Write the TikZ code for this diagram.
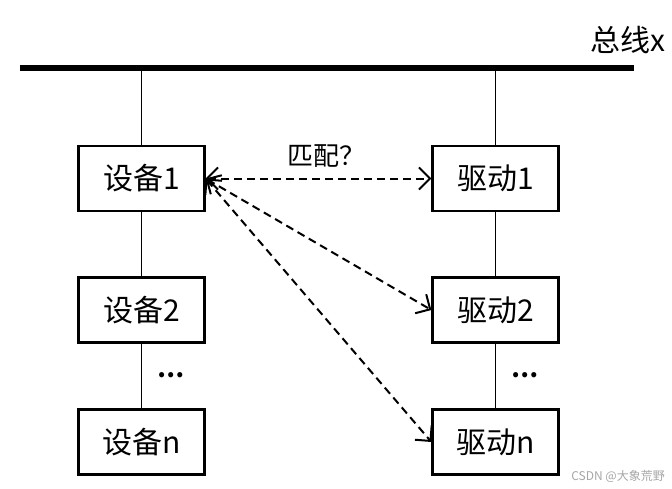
\documentclass[tikz,border=0pt]{standalone}
\usepackage{fontspec}
\newfontfamily\cjk{Noto Sans CJK SC}
\usetikzlibrary{arrows.meta}
\tikzset{
  box/.style={draw=black, line width=2.2pt, minimum width=126pt, minimum height=65pt, inner sep=0pt,
    font=\cjk\fontsize{30}{34}\selectfont},
  link/.style={line width=1.8pt},
  match/.style={line width=2pt, dash pattern=on 8pt off 5pt,
    {Straight Barb[length=11pt,width=22pt,line width=2pt]}-{Straight Barb[length=11pt,width=22pt,line width=2pt]}},
  dots/.style={font=\cjk\bfseries\fontsize{24}{28}\selectfont, inner sep=0pt}
}
\begin{document}
\begin{tikzpicture}[x=1pt,y=-1pt]
\useasboundingbox (0,0) rectangle (672,488);
\fill[white] (0,0) rectangle (672,488);
% bus
\coordinate (busL) at (20,67.5);
\coordinate (busR) at (634,67.5);
\draw[line width=6pt] (busL) -- (busR);
\node[anchor=east, font=\cjk\fontsize{30}{34}\selectfont, inner sep=0pt] (buslabel) at (666,40) {总线x};
% boxes
\node[box] (d1) at (141.5,178.5) {设备1};
\node[box] (d2) at (141.5,310) {设备2};
\node[box] (d3) at (141.5,442) {设备n};
\node[box] (r1) at (495.5,178.5) {驱动1};
\node[box] (r2) at (495.5,310) {驱动2};
\node[box] (r3) at (495.5,442) {驱动n};
\coordinate (tapL) at (141.5,67.5);
\coordinate (tapR) at (495.5,67.5);
% vertical links
\draw[link] (tapL) -- (d1.north);
\draw[link] (d1) -- (d2);
\draw[link] (d2) -- (d3);
\draw[link] (tapR) -- (r1.north);
\draw[link] (r1) -- (r2);
\draw[link] (r2) -- (r3);
% dots
\node[dots] (dotsL) at (171,375) {…};
\node[dots] (dotsR) at (525,375) {…};
% match arrows
\draw[match] (d1.east) -- (r1.west);
\draw[match] (d1.east) -- (r2.west);
\draw[match] (d1.east) -- (r3.west);
\node[font=\cjk\fontsize{26}{30}\selectfont, inner sep=0pt] (q) at (326,156) {匹配？};
% watermark
\node[anchor=east, text=black!35, font=\cjk\fontsize{12}{14}\selectfont, inner sep=0pt] (wm) at (665,476) {CSDN @大象荒野};
\end{tikzpicture}
\end{document}
